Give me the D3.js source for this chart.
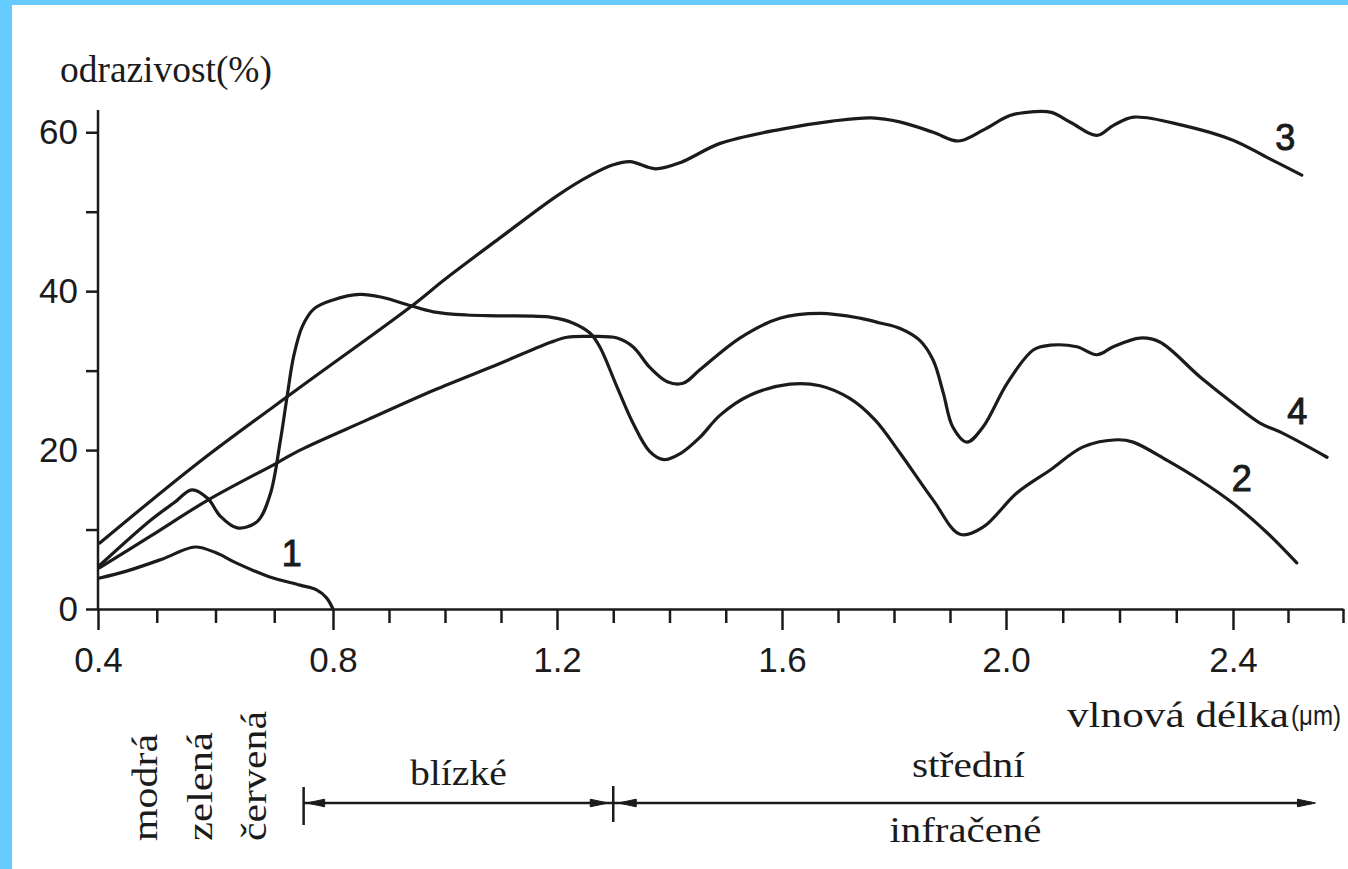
<!DOCTYPE html>
<html><head><meta charset="utf-8">
<script src="https://cdn.jsdelivr.net/npm/d3@7"></script>
<style>
html,body{margin:0;padding:0;background:#fff;}
svg{display:block;}
</style></head>
<body>
<svg id="chart" width="1348" height="869"></svg>
<script>
// ---------- data ----------
const wavelengthLabels = [0.4, 0.8, 1.2, 1.6, 2.0, 2.4];
const wavelengthMinorTicks = [0.5,0.6,0.7,0.9,1.0,1.1,1.3,1.4,1.5,1.7,1.8,1.9,2.1,2.2,2.3,2.5,2.6];
const reflectanceLabels = [0, 20, 40, 60];
const reflectanceTicks = [0, 10, 20, 30, 40, 50, 60];

const curve1 = [[0.403,3.9],[0.45,4.8],[0.51,6.3],[0.565,7.8],[0.60,7.1],[0.635,5.8],[0.69,4.1],[0.744,3.0],[0.772,2.4],[0.789,1.4],[0.80,0]];
const curve2 = [[0.403,5.5],[0.49,11.2],[0.53,13.4],[0.56,15.0],[0.587,13.9],[0.608,11.7],[0.637,10.2],[0.671,11.0],[0.693,14.4],[0.71,21.0],[0.722,26.8],[0.733,31.8],[0.748,35.6],[0.768,37.8],[0.80,38.9],[0.848,39.6],[0.889,39.2],[0.9375,38.2],[0.979,37.4],[1.039,37.0],[1.098,36.9],[1.19,36.7],[1.228,36.0],[1.259,34.7],[1.276,33.0],[1.307,27.9],[1.335,23.4],[1.365,19.8],[1.39,18.8],[1.42,19.6],[1.454,21.6],[1.49,24.4],[1.543,26.9],[1.614,28.3],[1.668,28.1],[1.721,26.5],[1.766,23.8],[1.811,19.6],[1.87,13.7],[1.918,9.4],[1.959,10.3],[2.019,14.6],[2.078,17.5],[2.136,20.4],[2.196,21.3],[2.224,21.0],[2.284,18.7],[2.342,16.2],[2.4,13.3],[2.462,9.6],[2.516,5.8]];
const curve3 = [[0.403,8.3],[0.574,18.6],[0.744,27.9],[0.94,38.1],[1.0,41.5],[1.1,46.8],[1.2,52.0],[1.26,54.6],[1.3,55.9],[1.33,56.3],[1.375,55.4],[1.42,56.2],[1.49,58.6],[1.6,60.4],[1.69,61.4],[1.76,61.8],[1.81,61.3],[1.87,60.0],[1.915,58.9],[1.96,60.3],[2.007,62.1],[2.05,62.6],[2.08,62.5],[2.115,61.2],[2.16,59.6],[2.19,60.9],[2.225,61.9],[2.31,60.9],[2.4,59.0],[2.46,56.9],[2.525,54.6]];
const curve4 = [[0.403,5.2],[0.49,9.2],[0.587,13.7],[0.705,18.4],[0.744,20.0],[0.861,23.8],[0.979,27.5],[1.098,30.9],[1.19,33.6],[1.218,34.2],[1.259,34.3],[1.307,34.1],[1.335,33.0],[1.365,30.4],[1.396,28.6],[1.424,28.4],[1.454,30.1],[1.525,34.1],[1.596,36.6],[1.668,37.2],[1.739,36.6],[1.775,36.0],[1.811,35.3],[1.846,33.8],[1.87,31.3],[1.888,27.2],[1.905,22.9],[1.93,21.0],[1.959,22.9],[2.002,28.4],[2.048,32.6],[2.078,33.2],[2.125,33.0],[2.16,32.0],[2.189,33.0],[2.236,34.1],[2.271,33.6],[2.342,29.2],[2.4,25.9],[2.449,23.4],[2.491,22.1],[2.571,19.1]];

const curveNames = ["1", "2", "3", "4"];
const curveLabelAnchors = [[0.73,7.0],[2.416,16.4],[2.495,59.4],[2.517,24.9]];

const visibleBandNames = ["modrá", "zelená", "červená"];
const visibleBandWavelengths = [0.50, 0.594, 0.686];
const infraredBounds = [0.75, 1.3, 2.55];
const infraredNear = "blízké";
const infraredMid = "střední";
const infraredWord = "infračené";

const yTitle = "odrazivost(%)";
const xTitle = "vlnová délka";
const xUnit = "(μm)";

// ---------- drawing ----------
const svg = d3.select("#chart");
const ink = "#1b1b1b";

svg.append("rect").attr("x",0).attr("y",0).attr("width",1348).attr("height",869).attr("fill","#fff");
svg.append("rect").attr("x",0).attr("y",0).attr("width",12).attr("height",869).attr("fill","#66ccff");
svg.append("rect").attr("x",0).attr("y",0).attr("width",1348).attr("height",5).attr("fill","#66ccff");

// scanned axis is slightly non-uniform: polylinear scale through the printed ticks
const x = d3.scaleLinear()
  .domain([0.4, 0.8, 1.2, 1.6, 2.0, 2.4, 2.6])
  .range([98, 333, 557, 782, 1006, 1233, 1343]);
const y = d3.scaleLinear().domain([0, 62.8]).range([609, 110]);

const axisFont = "'Liberation Sans', Arial, sans-serif";
const serif = "'Liberation Serif', 'Times New Roman', serif";

function styleAxis(g) {
  g.selectAll("path, line").attr("stroke", ink).attr("stroke-width", 2.5);
  g.selectAll("text").attr("fill", ink).attr("font-family", axisFont).attr("font-size", 35);
}

// minor x ticks
svg.append("g").attr("transform", `translate(0,${y(0)})`)
  .call(d3.axisBottom(x).tickValues(wavelengthMinorTicks).tickSize(14).tickFormat(""))
  .call(g => g.select(".domain").remove())
  .call(styleAxis);

// major x ticks with labels
svg.append("g").attr("transform", `translate(0,${y(0)})`)
  .call(d3.axisBottom(x).tickValues(wavelengthLabels).tickSize(21).tickSizeOuter(0).tickPadding(17).tickFormat(d3.format(".1f")))
  .call(styleAxis);

// y axis
svg.append("g").attr("transform", `translate(${x(0.4)},0)`)
  .call(d3.axisLeft(y).tickValues(reflectanceTicks).tickSize(12).tickSizeOuter(0).tickPadding(8)
    .tickFormat(d => reflectanceLabels.includes(d) ? d : ""))
  .call(g => g.select(".domain").attr("d", `M0,${y(0)}V${y(62.8)}`))
  .call(styleAxis);

// curves
const line = d3.line().x(d => x(d[0])).y(d => y(d[1])).curve(d3.curveCatmullRom.alpha(0.5));
[curve1, curve2, curve3, curve4].forEach(c => {
  svg.append("path").datum(c).attr("d", line)
    .attr("fill", "none").attr("stroke", ink).attr("stroke-width", 3.2)
    .attr("stroke-linecap", "round").attr("stroke-linejoin", "round");
});

// curve numbers
curveNames.forEach((n, i) => {
  svg.append("text").text(n)
    .attr("x", x(curveLabelAnchors[i][0])).attr("y", y(curveLabelAnchors[i][1]))
    .attr("text-anchor", "middle").attr("dominant-baseline", "central")
    .attr("font-family", axisFont).attr("font-size", 36)
    .attr("fill", ink).attr("stroke", ink).attr("stroke-width", 1);
});

// titles
svg.append("text").text(yTitle).attr("x", 60).attr("y", 82)
  .attr("font-family", serif).attr("font-size", 37).attr("fill", ink)
  .attr("textLength", 212).attr("lengthAdjust", "spacingAndGlyphs");
svg.append("text").text(xTitle).attr("x", 1067).attr("y", 727)
  .attr("font-family", serif).attr("font-size", 35).attr("fill", ink)
  .attr("textLength", 222).attr("lengthAdjust", "spacingAndGlyphs");
svg.append("text").text(xUnit).attr("x", 1291).attr("y", 725)
  .attr("font-family", axisFont).attr("font-size", 28).attr("fill", ink)
  .attr("textLength", 50).attr("lengthAdjust", "spacingAndGlyphs");

// visible band labels (vertical)
const bandLens = [107, 109, 130];
visibleBandNames.forEach((n, i) => {
  svg.append("text").text(n)
    .attr("transform", `translate(${x(visibleBandWavelengths[i])},841) rotate(-90)`)
    .attr("font-family", serif).attr("font-size", 36).attr("fill", ink)
    .attr("textLength", bandLens[i]).attr("lengthAdjust", "spacingAndGlyphs");
});

// infrared range arrows
const ay = 803;
const x0 = x(infraredBounds[0]), x1 = x(infraredBounds[1]), x2 = x(infraredBounds[2]);
const g = svg.append("g").attr("stroke", ink).attr("fill", ink);
g.append("line").attr("x1", x0).attr("x2", x2 - 4).attr("y1", ay).attr("y2", ay).attr("stroke-width", 2.5);
g.append("line").attr("x1", x0).attr("x2", x0).attr("y1", 787).attr("y2", 825).attr("stroke-width", 2.5);
g.append("line").attr("x1", x1).attr("x2", x1).attr("y1", 786).attr("y2", 822).attr("stroke-width", 2.5);
function arrow(tip, dir) {
  const L = 18, W = 3.8;
  g.append("path").attr("stroke-width", 1)
    .attr("d", `M${tip},${ay}L${tip + dir * L},${ay - W}L${tip + dir * L},${ay + W}Z`);
}
arrow(x0 + 3, 1);
arrow(x1 - 5, -1);
arrow(x1 + 5, 1);
arrow(x2, -1);

svg.append("text").text(infraredNear).attr("x", (x0 + x1) / 2).attr("y", 785)
  .attr("text-anchor", "middle").attr("font-family", serif).attr("font-size", 36).attr("fill", ink)
  .attr("textLength", 97).attr("lengthAdjust", "spacingAndGlyphs");
svg.append("text").text(infraredMid).attr("x", (x1 + x2) / 2 + 4).attr("y", 777)
  .attr("text-anchor", "middle").attr("font-family", serif).attr("font-size", 36).attr("fill", ink)
  .attr("textLength", 113).attr("lengthAdjust", "spacingAndGlyphs");
svg.append("text").text(infraredWord).attr("x", (x1 + x2) / 2 + 1).attr("y", 842)
  .attr("text-anchor", "middle").attr("font-family", serif).attr("font-size", 36).attr("fill", ink)
  .attr("textLength", 152).attr("lengthAdjust", "spacingAndGlyphs");
</script>
</body></html>
